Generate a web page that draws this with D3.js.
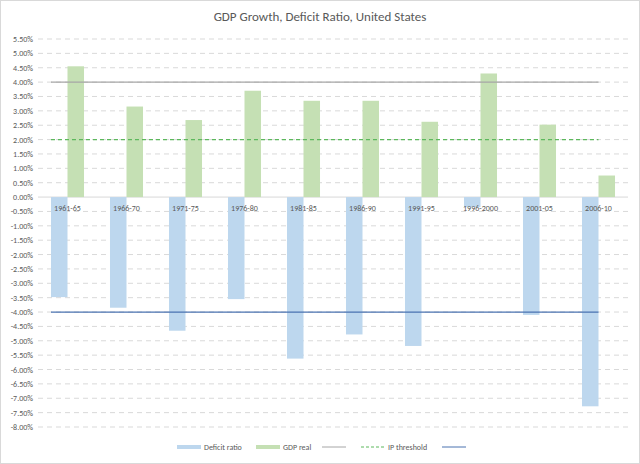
<!DOCTYPE html>
<html><head><meta charset="utf-8">
<script src="https://cdn.jsdelivr.net/npm/d3@7"></script>
<style>body{margin:0;background:#fff;font-family:Calibri,"Liberation Sans","DejaVu Sans",sans-serif}</style>
</head><body><div id="chart"></div>
<script>
const data = [
  { period: "1961-65", deficit: -3.48, gdp: 4.55 },
  { period: "1966-70", deficit: -3.85, gdp: 3.15 },
  { period: "1971-75", deficit: -4.65, gdp: 2.68 },
  { period: "1976-80", deficit: -3.55, gdp: 3.7 },
  { period: "1981-85", deficit: -5.62, gdp: 3.35 },
  { period: "1986-90", deficit: -4.78, gdp: 3.35 },
  { period: "1991-95", deficit: -5.18, gdp: 2.62 },
  { period: "1996-2000", deficit: -0.35, gdp: 4.3 },
  { period: "2001-05", deficit: -4.1, gdp: 2.52 },
  { period: "2006-10", deficit: -7.28, gdp: 0.75 }
];
const lines = [
  { value: 4, color: "#a6a6a6", dash: null },
  { value: 2, color: "#5cb85c", dash: "4,3" },
  { value: -4, color: "#4a72b0", dash: null }
];

const svg = d3.select("#chart").append("svg").attr("width", 640).attr("height", 464);
svg.append("rect").attr("x", 0.5).attr("y", 0.5).attr("width", 639).attr("height", 463)
  .attr("fill", "#fff").attr("stroke", "#d9d9d9");

svg.append("text").attr("x", 320).attr("y", 21).attr("text-anchor", "middle")
  .attr("font-size", 13).attr("fill", "#595959").text("GDP Growth, Deficit Ratio, United States");

const x = d3.scaleBand().domain(data.map(d => d.period)).range([38, 628]).paddingInner(0.44).paddingOuter(0.22);
const y = d3.scaleLinear().domain([-8, 5.5]).range([427, 39]);

// gridlines
const ticks = d3.range(-8, 5.51, 0.5);
svg.append("g").selectAll("line").data(ticks).enter().append("line")
  .attr("x1", 38).attr("x2", 628)
  .attr("y1", d => y(d)).attr("y2", d => y(d))
  .attr("stroke", "#d9d9d9").attr("stroke-dasharray", d => d === 0 ? null : "5,4");

svg.append("g").selectAll("text").data(ticks).enter().append("text")
  .attr("x", 33).attr("y", d => y(d) + 3).attr("text-anchor", "end")
  .attr("font-size", 8).attr("fill", "#595959")
  .text(d => d.toFixed(2) + "%");

const bw = x.bandwidth() / 2;
svg.append("g").selectAll("rect").data(data).enter().append("rect")
  .attr("x", d => x(d.period)).attr("width", bw)
  .attr("y", y(0)).attr("height", d => y(d.deficit) - y(0))
  .attr("fill", "#bdd7ee");
svg.append("g").selectAll("rect").data(data).enter().append("rect")
  .attr("x", d => x(d.period) + bw).attr("width", bw)
  .attr("y", d => y(d.gdp)).attr("height", d => y(0) - y(d.gdp))
  .attr("fill", "#c5e0b4");

svg.append("g").selectAll("text").data(data).enter().append("text")
  .attr("x", d => x(d.period) + bw).attr("y", y(0) + 14).attr("text-anchor", "middle")
  .attr("font-size", 8).attr("fill", "#595959").text(d => d.period);

const first = data[0].period, last = data[data.length - 1].period;
svg.append("g").selectAll("line").data(lines).enter().append("line")
  .attr("x1", x(first)).attr("x2", x(last) + bw)
  .attr("y1", d => y(d.value)).attr("y2", d => y(d.value))
  .attr("stroke", d => d.color).attr("stroke-width", 1.2)
  .attr("stroke-dasharray", d => d.dash);

// legend
const lg = svg.append("g").attr("font-size", 8).attr("fill", "#595959");
lg.append("rect").attr("x", 177).attr("y", 445).attr("width", 24).attr("height", 4).attr("fill", "#bdd7ee");
lg.append("text").attr("x", 204).attr("y", 450).text("Deficit ratio");
lg.append("rect").attr("x", 256).attr("y", 445).attr("width", 24).attr("height", 4).attr("fill", "#c5e0b4");
lg.append("text").attr("x", 283).attr("y", 450).text("GDP real");
lg.append("line").attr("x1", 322).attr("x2", 346).attr("y1", 447).attr("y2", 447).attr("stroke", "#a6a6a6");
lg.append("line").attr("x1", 361).attr("x2", 385).attr("y1", 447).attr("y2", 447).attr("stroke", "#5cb85c").attr("stroke-dasharray", "3,2");
lg.append("text").attr("x", 388).attr("y", 450).text("IP threshold");
lg.append("line").attr("x1", 442).attr("x2", 466).attr("y1", 447).attr("y2", 447).attr("stroke", "#4a72b0");
</script></body></html>
